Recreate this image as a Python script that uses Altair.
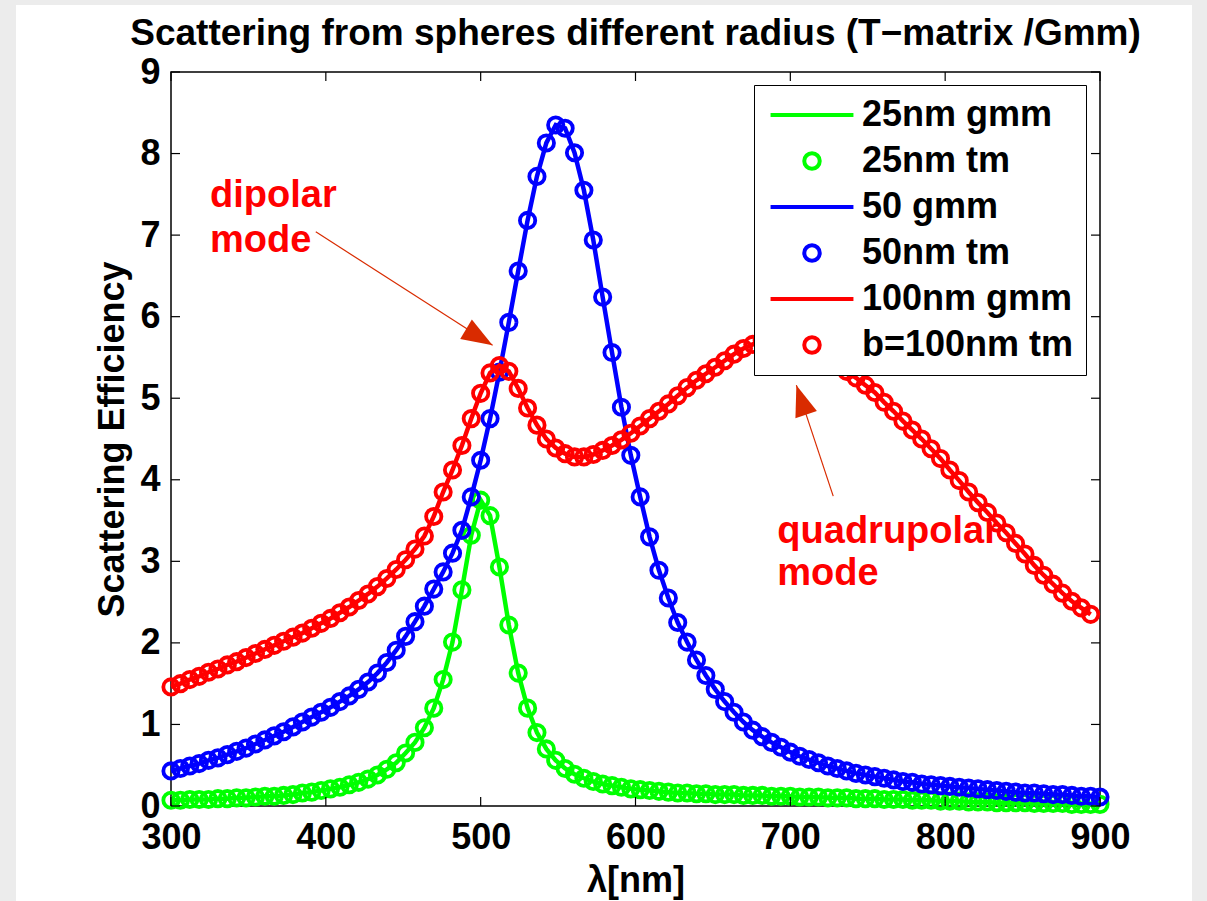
import altair as alt
import pandas as pd
import numpy as np

# ---------------- data ----------------
lam = [round(v, 2) for v in np.linspace(300, 900, 100)]

g25 = [0.07, 0.07, 0.08, 0.08, 0.08, 0.09, 0.09, 0.10, 0.10, 0.11,
       0.12, 0.12, 0.13, 0.14, 0.16, 0.17, 0.19, 0.21, 0.23, 0.26,
       0.29, 0.33, 0.38, 0.45, 0.53, 0.65, 0.78, 0.96, 1.20, 1.55,
       2.01, 2.65, 3.32, 3.75, 3.56, 2.93, 2.22, 1.63, 1.20, 0.90,
       0.70, 0.56, 0.46, 0.39, 0.34, 0.30, 0.27, 0.25, 0.23, 0.21,
       0.20, 0.19, 0.18, 0.17, 0.16, 0.16, 0.15, 0.15, 0.14, 0.14,
       0.14, 0.13, 0.13, 0.13, 0.12, 0.12, 0.12, 0.11, 0.11, 0.11,
       0.10, 0.10, 0.10, 0.09, 0.09, 0.09, 0.08, 0.08, 0.08, 0.07,
       0.07, 0.07, 0.06, 0.06, 0.06, 0.05, 0.05, 0.05, 0.04, 0.04,
       0.04, 0.04, 0.03, 0.03, 0.03, 0.03, 0.02, 0.02, 0.02, 0.02]

b50 = [0.43, 0.46, 0.49, 0.52, 0.56, 0.59, 0.63, 0.67, 0.71, 0.76,
       0.81, 0.86, 0.91, 0.97, 1.03, 1.09, 1.15, 1.21, 1.28, 1.35,
       1.43, 1.52, 1.63, 1.76, 1.91, 2.08, 2.26, 2.45, 2.66, 2.87,
       3.10, 3.38, 3.79, 4.24, 4.75, 5.32, 5.93, 6.56, 7.18, 7.72,
       8.13, 8.35, 8.31, 8.01, 7.55, 6.94, 6.24, 5.56, 4.89, 4.30,
       3.79, 3.30, 2.89, 2.55, 2.25, 2.01, 1.79, 1.60, 1.43, 1.28,
       1.15, 1.03, 0.93, 0.85, 0.78, 0.72, 0.66, 0.61, 0.57, 0.53,
       0.49, 0.46, 0.43, 0.40, 0.38, 0.36, 0.34, 0.32, 0.30, 0.29,
       0.27, 0.26, 0.25, 0.24, 0.23, 0.22, 0.21, 0.20, 0.19, 0.18,
       0.17, 0.16, 0.16, 0.15, 0.14, 0.14, 0.13, 0.12, 0.12, 0.11]

r100 = [1.46, 1.50, 1.55, 1.59, 1.64, 1.68, 1.73, 1.77, 1.82, 1.87,
        1.92, 1.97, 2.02, 2.07, 2.12, 2.18, 2.24, 2.30, 2.37, 2.44,
        2.52, 2.60, 2.69, 2.79, 2.90, 3.02, 3.15, 3.31, 3.55, 3.85,
        4.12, 4.42, 4.75, 5.06, 5.31, 5.40, 5.33, 5.12, 4.88, 4.67,
        4.50, 4.39, 4.32, 4.28, 4.28, 4.31, 4.36, 4.42, 4.49, 4.57,
        4.66, 4.75, 4.84, 4.93, 5.03, 5.13, 5.22, 5.30, 5.38, 5.46,
        5.54, 5.61, 5.66, 5.71, 5.74, 5.76, 5.76, 5.74, 5.69, 5.62,
        5.53, 5.43, 5.33, 5.25, 5.16, 5.07, 4.95, 4.84, 4.72, 4.61,
        4.50, 4.38, 4.26, 4.12, 3.99, 3.85, 3.72, 3.60, 3.47, 3.35,
        3.22, 3.09, 2.95, 2.83, 2.72, 2.61, 2.51, 2.43, 2.35]

line_labels = ["25nm gmm", "50 gmm", "100nm gmm"]
tm_labels = ["25nm tm", "50nm tm", "b=100nm tm"]
legend_order = ["25nm gmm", "25nm tm", "50 gmm", "50nm tm", "100nm gmm", "b=100nm tm"]
legend_colors = ["#00ff00", "#00ff00", "#0000ff", "#0000ff", "#ff0000", "#ff0000"]
LINE_SHAPE = "M-5.35,0H5.35"
legend_shapes = [LINE_SHAPE, "circle", LINE_SHAPE, "circle", LINE_SHAPE, "circle"]

x_ticks = [300, 400, 500, 600, 700, 800, 900]
y_ticks = [0, 1, 2, 3, 4, 5, 6, 7, 8, 9]

annot_text = ["dipolar", "mode", "quadrupolar", "mode"]
annot_lam = [325.2, 325.2, 691.6, 691.6]
annot_val = [7.34, 6.79, 3.22, 2.71]

arrow_tail_lam = [393.5, 727.7]
arrow_tail_val = [7.04, 3.80]
arrow_tip_lam = [507.7, 703.9]
arrow_tip_val = [5.65, 5.16]
arrow_angle = [121, 341.6]

# ---------------- layout ----------------
W, H = 929, 734
PL, PT = 171, 72
FONT = "Liberation Sans"

xs = alt.Scale(domain=[300, 900], nice=False, zero=False)
ys = alt.Scale(domain=[0, 9], nice=False, zero=False)
cscale = alt.Scale(domain=legend_order, range=legend_colors)
sscale = alt.Scale(domain=legend_order, range=legend_shapes)

leg = alt.Legend(title=None, orient="none", legendX=583, legendY=13,
                 fillColor="white", strokeColor="black", padding=12,
                 labelFontSize=36, labelFont=FONT, labelFontWeight="bold",
                 labelColor="black", labelLimit=600, symbolStrokeWidth=4,
                 symbolSize=240, rowPadding=10, labelOffset=32, symbolOffset=28,
                 symbolFillColor="transparent")

xenc = alt.X("lam:Q", scale=xs,
             axis=alt.Axis(values=x_ticks, tickSize=0, domain=False, grid=False,
                           labelFlush=False,
                           labelFontSize=36, labelFont=FONT, labelFontWeight="bold",
                           labelColor="black", labelPadding=14, format="d",
                           title="λ[nm]", titleFontSize=36, titleFont=FONT,
                           titleFontWeight="bold", titleColor="black",
                           titleY=85, titleBaseline="alphabetic"))
yenc = alt.Y("val:Q", scale=ys,
             axis=alt.Axis(values=y_ticks, tickSize=0, domain=False, grid=False,
                           labelFlush=False,
                           labelFontSize=36, labelFont=FONT, labelFontWeight="bold",
                           labelColor="black", labelPadding=11, format="d",
                           title="Scattering Efficiency", titleFontSize=36,
                           titleFont=FONT, titleFontWeight="bold", titleColor="black",
                           titleX=-48, titleBaseline="alphabetic"))

layers = []

# annotations (under data)
ann = pd.DataFrame({"lam": annot_lam, "val": annot_val, "t": annot_text})
layers.append(alt.Chart(ann).mark_text(align="left", baseline="alphabetic", font=FONT,
                                       fontWeight="bold", fontSize=38, color="#ff0000")
              .encode(x=alt.X("lam:Q", scale=xs), y=alt.Y("val:Q", scale=ys), text="t:N"))
arr = pd.DataFrame({"lam": arrow_tail_lam, "val": arrow_tail_val,
                    "lam2": arrow_tip_lam, "val2": arrow_tip_val, "ang": arrow_angle})
layers.append(alt.Chart(arr).mark_rule(color="#d92b00", strokeWidth=1.2).encode(
    x=alt.X("lam:Q", scale=xs), y=alt.Y("val:Q", scale=ys), x2="lam2:Q", y2="val2:Q"))
layers.append(alt.Chart(arr).mark_point(shape="M0,0L0.73,2L-0.73,2Z", filled=True, size=961,
                                        color="#d92b00", opacity=1).encode(
    x=alt.X("lam2:Q", scale=xs), y=alt.Y("val2:Q", scale=ys), angle=alt.Angle("ang:Q", scale=None)))

# data series (stroke channel only, so legend symbols stay hollow)
for vals, ll, tl in [(g25, line_labels[0], tm_labels[0]),
                     (b50, line_labels[1], tm_labels[1]),
                     (r100, line_labels[2], tm_labels[2])]:
    n = len(vals)
    dfl = pd.DataFrame({"lam": lam[:n], "val": vals, "series": ll})
    dfp = pd.DataFrame({"lam": lam[:n], "val": vals, "series": tl})
    layers.append(alt.Chart(dfp).mark_point(filled=False, fill=None, size=235, strokeWidth=3.8,
                                            opacity=1).encode(
        x=xenc, y=yenc, stroke=alt.Stroke("series:N", scale=cscale, legend=leg),
        shape=alt.Shape("series:N", scale=sscale, legend=leg)))
    layers.append(alt.Chart(dfl).mark_line(strokeWidth=4.5).encode(
        x=xenc, y=yenc, stroke=alt.Stroke("series:N", scale=cscale, legend=leg)))

# inward ticks on all four sides
xt = pd.DataFrame({"t": x_ticks})
yt = pd.DataFrame({"t": y_ticks})
layers.append(alt.Chart(xt).mark_rule(color="black", strokeWidth=1.2).encode(
    x=alt.X("t:Q", scale=xs), y=alt.value(H), y2=alt.value(H - 9)))
layers.append(alt.Chart(xt).mark_rule(color="black", strokeWidth=1.2).encode(
    x=alt.X("t:Q", scale=xs), y=alt.value(0), y2=alt.value(9)))
layers.append(alt.Chart(yt).mark_rule(color="black", strokeWidth=1.2).encode(
    y=alt.Y("t:Q", scale=ys), x=alt.value(0), x2=alt.value(9)))
layers.append(alt.Chart(yt).mark_rule(color="black", strokeWidth=1.2).encode(
    y=alt.Y("t:Q", scale=ys), x=alt.value(W), x2=alt.value(W - 9)))

# gray margin strips of the figure window (outside the plot)
strip = pd.DataFrame({"a": [0]})
for x1, x2, y1, y2 in [(-PL, -PL + 16, -PT, 829), (1021, 1036, -PT, 829), (-PL, 1036, -PT, -PT + 5)]:
    layers.append(alt.Chart(strip).mark_rect(color="#ececec").encode(
        x=alt.value(x1), x2=alt.value(x2), y=alt.value(y1), y2=alt.value(y2)))

chart = alt.layer(*layers).properties(
    width=W, height=H,
    title=alt.TitleParams("Scattering from spheres different radius (T\u2212matrix /Gmm)",
                          fontSize=37, font=FONT, fontWeight="bold", color="black",
                          anchor="middle", baseline="alphabetic", offset=0, dy=82,
                          frame="group"),
    autosize=alt.AutoSizeParams(type="none"),
    padding={"left": PL, "top": PT, "right": 1207 - PL - W, "bottom": 901 - PT - H},
    background="white",
).configure_view(stroke="black", strokeWidth=1.5)

chart.save("out.html", embed_options={"renderer": "svg", "actions": False})
